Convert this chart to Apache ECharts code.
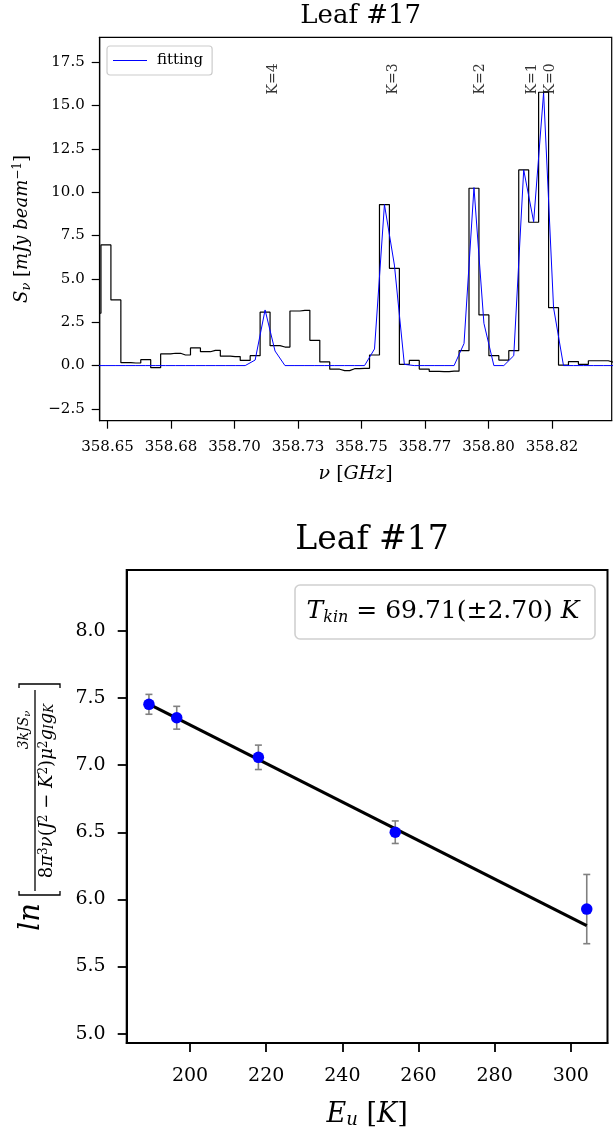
<!DOCTYPE html>
<html><head><meta charset="utf-8">
<script src="https://cdn.jsdelivr.net/npm/echarts@6/dist/echarts.min.js"></script>
<style>html,body{margin:0;padding:0;background:#fff}#c{width:613px;height:1130px}</style>
</head><body><div id="c"></div>
<script>
// ---------- top panel: spectrum ----------
const channelFreqs = [358.64547,358.64939,358.65330,358.65722,358.66114,358.66505,358.66897,358.67288,358.67680,358.68071,
  358.68463,358.68855,358.69246,358.69638,358.70029,358.70421,358.70813,358.71204,358.71596,358.71987,
  358.72379,358.72771,358.73162,358.73554,358.73945,358.74337,358.74729,358.75120,358.75512,358.75903,
  358.76295,358.76687,358.77078,358.77470,358.77861,358.78253,358.78645,358.79036,358.79428,358.79819,
  358.80211,358.80603,358.80994,358.81386,358.81777,358.82169,358.82561,358.82952,358.83344,358.83735,
  358.84127,358.84519,358.84910];
const observedFlux = [3.02,6.96,3.79,0.17,0.15,0.34,-0.12,0.67,0.71,0.61,
  1.02,0.80,0.88,0.54,0.52,0.30,0.57,3.08,1.15,1.07,
  3.15,3.19,1.46,0.21,-0.21,-0.29,-0.18,-0.16,0.61,9.29,
  5.61,0.07,0.30,-0.20,-0.33,-0.35,-0.32,0.86,10.23,2.92,
  0.57,0.32,0.86,11.29,8.27,15.77,3.34,0.03,0.23,0.07,
  0.28,0.28,0.20];
const fittedFlux = [0,0,0,0,0,0,0,0,0,0,
  0,0,0,0,0,0,0.32,3.21,0.84,0,
  0,0,0,0,0,0,0,0,0.96,9.29,
  5.80,0.07,0,0,0,0,0,1.27,10.27,2.44,
  0,0,0.57,11.29,8.30,15.74,3.34,0,0,0,
  0,0,0];
const freqTickValues = [358.65,358.675,358.70,358.725,358.75,358.775,358.80,358.825];
const freqTickLabels = ['358.65','358.68','358.70','358.73','358.75','358.77','358.80','358.82'];
const fluxTickValues = [-2.5,0,2.5,5,7.5,10,12.5,15,17.5];
const fluxTickLabels = ['\u22122.5','0.0','2.5','5.0','7.5','10.0','12.5','15.0','17.5'];
const kLineNames = ['K=4','K=3','K=2','K=1','K=0'];
const kLineFreqs = [358.71516,358.76252,358.79693,358.81740,358.82421];
const kLabelLevel = 16.54;

// ---------- bottom panel: rotation diagram ----------
const upperEnergy = [189.2,196.5,217.95,253.9,304.2];
const lnColumn = [7.454,7.354,7.059,6.501,5.928];
const lnError = [0.074,0.085,0.091,0.084,0.258];
const fitEnergy = [189.2,304.2];
const fitLn = [7.455,5.805];
const energyTickValues = [200,220,240,260,280,300];
const energyTickLabels = ['200','220','240','260','280','300'];
const lnTickValues = [5.0,5.5,6.0,6.5,7.0,7.5,8.0];
const lnTickLabels = ['5.0','5.5','6.0','6.5','7.0','7.5','8.0'];

const SERIF = 'DejaVu Serif';
function lookup(values, labels){
  return function(v){
    for (let i=0;i<values.length;i++){ if (Math.abs(values[i]-v) < 1e-7) return labels[i]; }
    return '';
  };
}

const chart = echarts.init(document.getElementById('c'), null, {renderer:'canvas'});
const option = {
  animation:false,
  backgroundColor:'#fff',
  title:[
    {text:'Leaf #17', left:355.7, top:-1.5, textAlign:'center',
     textStyle:{fontFamily:SERIF, fontWeight:'normal', fontSize:26, color:'#000'}},
    {text:'Leaf #17', left:367, top:519, textAlign:'center',
     textStyle:{fontFamily:SERIF, fontWeight:'normal', fontSize:33, color:'#000'}}
  ],
  legend:{
    data:[{name:'fitting', icon:'rect', itemStyle:{color:'#0000ff'}}], left:107, top:46, orient:'vertical',
    itemWidth:34, itemHeight:1.2, itemGap:0,
    padding:[7,9,7,6],
    borderColor:'#cccccc', borderWidth:1.2, borderRadius:3,
    textStyle:{fontFamily:SERIF, fontSize:15, color:'#000', padding:[0,0,0,5]}
  },
  grid:[
    {left:99.7, top:37.3, width:512, height:383.4, show:true, borderColor:'#000', borderWidth:1.2, backgroundColor:'transparent'},
    {left:126.7, top:570, width:480.8, height:478.6, show:true, borderColor:'#000', borderWidth:2, backgroundColor:'transparent'}
  ],
  xAxis:[
    {type:'value', gridIndex:0, min:358.64693, max:358.84850,
     axisLine:{show:true, onZero:false, lineStyle:{color:'#000', width:1.2}}, splitLine:{show:false},
     axisTick:{show:true, length:8, lineStyle:{color:'#000', width:1.2}, customValues:freqTickValues},
     axisLabel:{show:true, customValues:freqTickValues, formatter:lookup(freqTickValues,freqTickLabels),
       fontFamily:SERIF, fontSize:15, color:'#000', margin:19, hideOverlap:false},
     name:'{i|\u03BD}{r| [}{i|GHz}{r|]}', nameLocation:'middle', nameGap:44,
     nameTextStyle:{rich:{i:{fontFamily:SERIF, fontStyle:'italic', fontSize:19, color:'#000'},
                          r:{fontFamily:SERIF, fontSize:19, color:'#000'}}}},
    {type:'value', gridIndex:1, min:183.36, max:309.65,
     axisLine:{show:true, onZero:false, lineStyle:{color:'#000', width:2}}, splitLine:{show:false},
     axisTick:{show:true, length:9, lineStyle:{color:'#000', width:1.8}, customValues:energyTickValues},
     axisLabel:{show:true, customValues:energyTickValues, formatter:lookup(energyTickValues,energyTickLabels),
       fontFamily:SERIF, fontSize:19, color:'#000', margin:24},
     name:'{i|E}{s|u}{r| [}{i|K}{r|]}', nameLocation:'middle', nameGap:57,
     nameTextStyle:{rich:{i:{fontFamily:SERIF, fontStyle:'italic', fontSize:27, color:'#000'},
                          s:{fontFamily:SERIF, fontStyle:'italic', fontSize:18, color:'#000', verticalAlign:'bottom', padding:[11,0,0,0]},
                          r:{fontFamily:SERIF, fontSize:27, color:'#000'}}}}
  ],
  yAxis:[
    {type:'value', gridIndex:0, min:-3.18, max:18.94,
     axisLine:{show:true, onZero:false, lineStyle:{color:'#000', width:1.2}}, splitLine:{show:false},
     axisTick:{show:true, length:8, lineStyle:{color:'#000', width:1.2}, customValues:fluxTickValues},
     axisLabel:{show:true, customValues:fluxTickValues, formatter:lookup(fluxTickValues,fluxTickLabels),
       fontFamily:SERIF, fontSize:15, color:'#000', margin:15},
     name:'{i|S}{s|\u03BD}{r| [}{i|mJy beam}{p|\u22121}{r|]}', nameLocation:'middle', nameGap:67, nameRotate:90,
     nameTextStyle:{rich:{i:{fontFamily:SERIF, fontStyle:'italic', fontSize:18, color:'#000'},
                          s:{fontFamily:SERIF, fontStyle:'italic', fontSize:13, color:'#000', verticalAlign:'bottom', padding:[8,0,0,0]},
                          p:{fontFamily:SERIF, fontSize:12, color:'#000', verticalAlign:'top', padding:[0,0,8,0]},
                          r:{fontFamily:SERIF, fontSize:18, color:'#000'}}}},
    {type:'value', gridIndex:1, min:4.93, max:8.455,
     axisLine:{show:true, onZero:false, lineStyle:{color:'#000', width:2}}, splitLine:{show:false},
     axisTick:{show:true, length:9, lineStyle:{color:'#000', width:1.8}, customValues:lnTickValues},
     axisLabel:{show:true, customValues:lnTickValues, formatter:lookup(lnTickValues,lnTickLabels),
       fontFamily:SERIF, fontSize:19, color:'#000', margin:21}}
  ],
  graphic:[
    {type:'rect', shape:{x:295, y:585, width:300, height:54, r:5},
     style:{fill:'#fff', stroke:'#d0d0d0', lineWidth:1.6}, z:10},
    {type:'text', x:443, y:611, z:11,
     style:{text:'{i|T}{s|kin}{r| = 69.71(\u00B12.70) }{i|K}', align:'center', verticalAlign:'middle',
       rich:{i:{fontFamily:SERIF, fontStyle:'italic', fontSize:25, fill:'#000'},
             s:{fontFamily:SERIF, fontStyle:'italic', fontSize:16, fill:'#000', verticalAlign:'bottom', padding:[13,0,0,0]},
             r:{fontFamily:SERIF, fontSize:25, fill:'#000'}}}},
    {type:'group', x:38, y:790, rotation:Math.PI/2, children:[
      {type:'text', x:-127, y:-7, style:{text:'ln', font:'italic 29px "DejaVu Serif"', fill:'#000', align:'center', verticalAlign:'middle'}},
      {type:'polyline', shape:{points:[[-101,-19],[-105,-19],[-105,22],[-101,22]]}, style:{stroke:'#000', lineWidth:1.3, fill:null}},
      {type:'polyline', shape:{points:[[102,-19],[106,-19],[106,22],[102,22]]}, style:{stroke:'#000', lineWidth:1.3, fill:null}},
      {type:'line', shape:{x1:-101, y1:-3, x2:100, y2:-3}, style:{stroke:'#000', lineWidth:1.3}},
      {type:'text', x:60, y:-6, style:{text:'{i|3kJS}{s|\u03BD}', align:'center', verticalAlign:'bottom',
        rich:{i:{fontFamily:SERIF, fontStyle:'italic', fontSize:14, fill:'#000'}, s:{fontFamily:SERIF, fontStyle:'italic', fontSize:10, fill:'#000', verticalAlign:'bottom', padding:[5,0,0,0]}}}},
      {type:'text', x:-1, y:0, style:{text:'{r|8}{i|\u03C0}{p|3}{i|\u03BD}{r|(}{i|J}{p|2}{r| \u2212 }{i|K}{p|2}{r|)}{i|\u03BC}{p|2}{i|g}{s|I}{i|g}{s|K}', align:'center', verticalAlign:'top',
        rich:{i:{fontFamily:SERIF, fontStyle:'italic', fontSize:18, fill:'#000'},
              r:{fontFamily:SERIF, fontSize:18, fill:'#000'},
              s:{fontFamily:SERIF, fontStyle:'italic', fontSize:12, fill:'#000', verticalAlign:'bottom', padding:[6,0,0,0]},
              p:{fontFamily:SERIF, fontSize:12, fill:'#000', verticalAlign:'top', padding:[0,0,6,0]}}}}
    ]}
  ],
  series:[
    {type:'line', name:'observed', xAxisIndex:0, yAxisIndex:0, step:'middle', symbol:'none', clip:true,
     data:channelFreqs.map((f,i)=>[f, observedFlux[i]]),
     lineStyle:{color:'#000', width:1.2}, z:3},
    {type:'line', name:'fitting', xAxisIndex:0, yAxisIndex:0, symbol:'none', clip:true, color:'#0000ff',
     data:channelFreqs.map((f,i)=>[f, fittedFlux[i]]),
     itemStyle:{color:'#0000ff'}, lineStyle:{color:'#0000ff', width:1}, z:4},
    {type:'scatter', name:'klabels', xAxisIndex:0, yAxisIndex:0, symbolSize:1, itemStyle:{color:'rgba(0,0,0,0)'},
     data:kLineFreqs.map((f,i)=>({value:[f,kLabelLevel], name:kLineNames[i]})),
     label:{show:true, position:'inside', rotate:90, formatter:'{b}', fontFamily:SERIF, fontSize:14, color:'#000'}, z:5},
    {type:'custom', name:'errors', xAxisIndex:1, yAxisIndex:1,
     data:upperEnergy.map((e,i)=>[e, lnColumn[i], lnError[i]]),
     renderItem:function(params, api){
       const x = api.value(0), y = api.value(1), d = api.value(2);
       const hi = api.coord([x, y + d]), lo = api.coord([x, y - d]);
       const st = {stroke:'#808080', lineWidth:1.6};
       return {type:'group', children:[
         {type:'line', shape:{x1:hi[0], y1:hi[1], x2:lo[0], y2:lo[1]}, style:st},
         {type:'line', shape:{x1:hi[0]-3.5, y1:hi[1], x2:hi[0]+3.5, y2:hi[1]}, style:st},
         {type:'line', shape:{x1:lo[0]-3.5, y1:lo[1], x2:lo[0]+3.5, y2:lo[1]}, style:st}
       ]};
     }, z:2},
    {type:'line', name:'fit', xAxisIndex:1, yAxisIndex:1, symbol:'none',
     data:fitEnergy.map((e,i)=>[e, fitLn[i]]),
     lineStyle:{color:'#000', width:3.2}, z:3},
    {type:'scatter', name:'points', xAxisIndex:1, yAxisIndex:1, symbolSize:11.5,
     data:upperEnergy.map((e,i)=>[e, lnColumn[i]]),
     itemStyle:{color:'#0000ff', opacity:1}, z:4}
  ]
};
chart.setOption(option);
</script>
</body></html>
